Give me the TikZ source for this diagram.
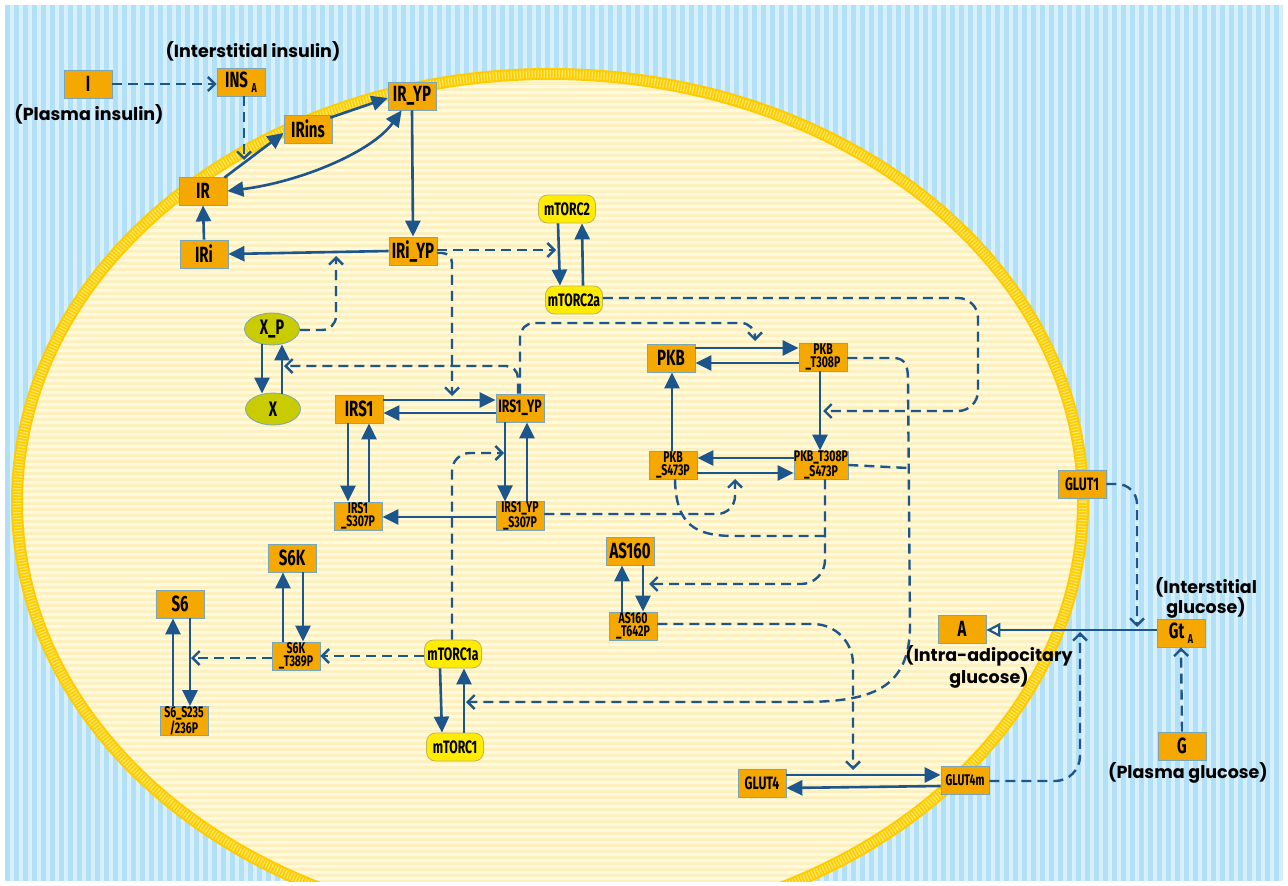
\documentclass[tikz,border=0pt]{standalone}
\usepackage{fontspec}
\usetikzlibrary{arrows.meta,shapes.geometric,calc}
\newfontfamily\cfont{Fira Sans}[FakeStretch=0.68]
\newfontfamily\lfont{Poppins}
\definecolor{bluebg}{RGB}{216,240,251}
\definecolor{bluestripe}{RGB}{178,224,246}
\definecolor{cellbg}{RGB}{255,249,222}
\definecolor{cellstripe}{RGB}{252,239,192}
\definecolor{memb}{RGB}{255,204,0}
\definecolor{membl}{RGB}{255,230,100}
\definecolor{orangef}{RGB}{245,168,0}
\definecolor{boxedge}{RGB}{120,165,185}
\definecolor{yellowf}{RGB}{255,236,0}
\definecolor{yellowedge}{RGB}{190,180,90}
\definecolor{olivef}{RGB}{200,204,0}
\definecolor{arrowc}{RGB}{28,86,140}
\begin{document}
\begin{tikzpicture}[x=1pt,y=-1pt,
  box/.style={draw=boxedge, line width=0.8pt, fill=orangef, minimum width=48pt, minimum height=28pt, inner sep=0pt, text=black, font=\cfont\bfseries\fontsize{22}{22}\selectfont},
  mbox/.style={box, font=\cfont\bfseries\fontsize{18}{18}\selectfont},
  sbox/.style={box, align=center, font=\cfont\bfseries\fontsize{15.5}{13}\selectfont},
  cplx/.style={draw=yellowedge, line width=0.8pt, fill=yellowf, rounded corners=9pt, minimum width=57pt, minimum height=28pt, inner sep=0pt, font=\cfont\bfseries\fontsize{18}{18}\selectfont},
  xell/.style={ellipse, draw=boxedge, line width=0.8pt, fill=olivef, minimum width=55pt, minimum height=32pt, inner sep=0pt, font=\cfont\bfseries\fontsize{21}{21}\selectfont},
  lab/.style={align=center, inner sep=0pt, font=\lfont\bfseries\fontsize{17.5}{18}\selectfont},
  rx/.style={draw=arrowc, line width=2.6pt, -{Triangle[length=16pt,width=15pt]}},
  rxx/.style={draw=arrowc, line width=2.6pt, {Triangle[length=16pt,width=15pt]}-{Triangle[length=16pt,width=15pt]}},
  inh/.style={draw=arrowc, line width=2.2pt, -{Triangle[open,length=14pt,width=14pt,fill=white]}},
  mdn/.style={draw=arrowc, line width=2.4pt, dash pattern=on 10pt off 6pt},
  md/.style={mdn, -{Straight Barb[length=7pt,width=14pt]}}
]
\useasboundingbox (0,0) rectangle (1288,886);
\fill[white] (0,0) rectangle (1288,886);
% blue background
\fill[bluebg] (5,5) rectangle (1283,881);
\foreach \i in {0,...,141} { \fill[bluestripe] ({5+9*\i},5) rectangle ({9.5+9*\i},881); }
% cell
\begin{scope}
  \clip (5,5) rectangle (1283,881);
  \begin{scope}
    \clip (550,502) ellipse [x radius=533, y radius=428];
    \fill[cellbg] (0,0) rectangle (1288,886);
    \foreach \j in {0,...,140} { \fill[cellstripe] (0,{70+6*\j}) rectangle (1288,{73+6*\j}); }
  \end{scope}
  \draw[memb, line width=12pt] (550,502) ellipse [x radius=533, y radius=428];
  \draw[membl, line width=8pt, dash pattern=on 1.2pt off 1.8pt] (550,502) ellipse [x radius=533, y radius=428];
\end{scope}

% nodes
\node[box] (I) at (88,84) {I};
\node[box] (INSA) at (241,82) {INS\,\raisebox{-5pt}{\fontsize{13}{13}\selectfont A}};
\node[box] (IRYP) at (412,96) {IR\_YP};
\node[box] (IRins) at (308,129) {IRins};
\node[box] (IR) at (203,191) {IR};
\node[box] (IRi) at (204,254) {IRi};
\node[box] (IRiYP) at (413,251) {IRi\_YP};
\node[cplx] (mTORC2) at (567,209) {mTORC2};
\node[cplx] (mTORC2a) at (574,300) {mTORC2a};
\node[xell] (XP) at (272,329) {X\_P};
\node[xell] (X) at (273,409) {X};
\node[box] (IRS1) at (359,409) {IRS1};
\node[mbox] (IRS1YP) at (520,408) {IRS1\_YP};
\node[sbox] (IRS1S) at (358,516) {IRS1\\\_S307P};
\node[sbox] (IRS1YPS) at (520,516) {IRS1\_YP\\\_S307P};
\node[box] (PKB) at (671,358) {PKB};
\node[sbox] (PKBT) at (823,357) {PKB\\\_T308P};
\node[sbox] (PKBS) at (673,465) {PKB\\\_S473P};
\node[sbox] (PKBTS) at (821,465) {PKB\_T308P\\\_S473P};
\node[box] (AS160) at (630,551) {AS160};
\node[sbox] (AS160T) at (633,626) {AS160\\\_T642P};
\node[box] (S6K) at (292,558) {S6K};
\node[sbox] (S6KT) at (296,656) {S6K\\\_T389P};
\node[box] (S6) at (180,604) {S6};
\node[sbox] (S6S) at (184,721) {S6\_S235\\/236P};
\node[cplx] (mTORC1a) at (453,654) {mTORC1a};
\node[cplx] (mTORC1) at (455,747) {mTORC1};
\node[mbox] (GLUT4) at (762,783) {GLUT4};
\node[sbox] (GLUT4m) at (965,780) {GLUT4m};
\node[mbox] (GLUT1) at (1082,484) {GLUT1};
\node[box] (A) at (962,629) {A};
\node[box] (GtA) at (1181,633) {Gt\,\raisebox{-5pt}{\fontsize{13}{13}\selectfont A}};
\node[box] (G) at (1182,746) {G};

% labels
\node[lab] (l1) at (253,51) {(Interstitial insulin)};
\node[lab] (l2) at (89,114) {(Plasma insulin)};
\node[lab] (l3) at (1206,598) {(Interstitial\\glucose)};
\node[lab] (l4) at (989,667) {(Intra-adipocitary\\glucose)};
\node[lab] (l5) at (1188,773) {(Plasma glucose)};

% reaction targets
\coordinate (c1) at (244,160);
\coordinate (c2) at (556,250);
\coordinate (c3) at (452,396);
\coordinate (c4) at (336,256);
\coordinate (c5) at (284,366);
\coordinate (c6) at (823,411);
\coordinate (c7) at (755,341);
\coordinate (c8) at (466,702);
\coordinate (j1) at (908,468);
\coordinate (c9) at (649,584);
\coordinate (j2) at (825,536);
\coordinate (c10) at (735,479);
\coordinate (c11) at (504,453);
\coordinate (c12) at (191,658);
\coordinate (c13) at (853,770);
\coordinate (c14) at (1080,632);
\coordinate (c15) at (1137,627);

% solid reactions
\draw[rx] ($(IR.north east)+(-3,1)$) -- ($(IRins.west)+(0,4)$);
\draw[rx] ($(IRins.north east)+(-2,3)$) -- ($(IRYP.west)+(0,2)$);
\draw[rxx] (IR.east) .. controls (300,182) and (372,152) .. ($(IRYP.south west)+(14,0)$);
\draw[rx] (IRYP.south) -- (IRiYP.north);
\draw[rx] (IRiYP.west) -- (IRi.east);
\draw[rx] (IRi.north) -- (IR.south);
\draw[rx] ($(mTORC2.south)+(-9,0)$) -- ($(mTORC2a.north)+(-14,0)$);
\draw[rx] ($(mTORC2a.north)+(9,0)$) -- ($(mTORC2.south)+(15,0)$);
\draw[rx] ($(XP.south)+(-10,-1)$) -- ($(X.north)+(-11,1)$);
\draw[rx] ($(X.north)+(9,1)$) -- ($(XP.south)+(10,-1)$);
\draw[rx] ($(IRS1.east)+(0,-9)$) -- ($(IRS1YP.west)+(0,-8)$);
\draw[rx] ($(IRS1YP.west)+(0,5)$) -- ($(IRS1.east)+(0,4)$);
\draw[rx] ($(IRS1.south)+(-11,0)$) -- ($(IRS1S.north)+(-10,0)$);
\draw[rx] ($(IRS1S.north)+(11,0)$) -- ($(IRS1.south)+(10,0)$);
\draw[rx] ($(IRS1YP.south)+(-15,0)$) -- ($(IRS1YPS.north)+(-15,0)$);
\draw[rx] ($(IRS1YPS.north)+(7,0)$) -- ($(IRS1YP.south)+(7,0)$);
\draw[rx] ($(IRS1YPS.west)+(0,1)$) -- ($(IRS1S.east)+(0,1)$);
\draw[rx] ($(PKB.east)+(0,-10)$) -- ($(PKBT.west)+(0,-9)$);
\draw[rx] ($(PKBT.west)+(0,6)$) -- ($(PKB.east)+(0,5)$);
\draw[rx] ($(PKBT.south)+(-3,0)$) -- ($(PKBTS.north)+(-1,0)$);
\draw[rx] ($(PKBTS.west)+(0,-7)$) -- ($(PKBS.east)+(0,-7)$);
\draw[rx] ($(PKBS.east)+(0,8)$) -- ($(PKBTS.west)+(0,8)$);
\draw[rx] ($(PKBS.north)+(-1,0)$) -- ($(PKB.south)+(1,0)$);
\draw[rx] ($(AS160.south)+(13,0)$) -- ($(AS160T.north)+(10,0)$);
\draw[rx] ($(AS160T.north)+(-11,0)$) -- ($(AS160.south)+(-8,0)$);
\draw[rx] ($(S6K.south)+(11,0)$) -- ($(S6KT.north)+(7,0)$);
\draw[rx] ($(S6KT.north)+(-13,0)$) -- ($(S6K.south)+(-9,0)$);
\draw[rx] ($(S6.south)+(10,0)$) -- ($(S6S.north)+(6,0)$);
\draw[rx] ($(S6S.north)+(-11,0)$) -- ($(S6.south)+(-7,0)$);
\draw[rx] ($(mTORC1a.south)+(-13,0)$) -- ($(mTORC1.north)+(-13,0)$);
\draw[rx] ($(mTORC1.north)+(9,0)$) -- ($(mTORC1a.south)+(11,0)$);
\draw[rx] ($(GLUT4.east)+(0,-8)$) -- ($(GLUT4m.west)+(0,-5)$);
\draw[rx] ($(GLUT4m.west)+(0,6)$) -- ($(GLUT4.east)+(0,5)$);
\draw[inh] ($(GtA.west)+(0,-3)$) -- ($(A.east)+(0,1)$);

% dashed modifiers
\draw[md] (I.east) -- ($(INSA.west)+(0,2)$);
\draw[md] ($(INSA.south)+(3,0)$) -- (c1);
\draw[md] ($(IRiYP.east)+(0,-1)$) -- (c2);
\draw[md, rounded corners=10pt] ($(IRiYP.east)+(0,2)$) -- (452,253) -- (c3);
\draw[md, rounded corners=14pt] ($(XP.east)+(0,1)$) -- (336,330) -- (c4);
\draw[md, rounded corners=12pt] ($(IRS1YP.north)+(-2,0)$) -- (518,366) -- (c5);
\draw[md, rounded corners=20pt] ($(mTORC2a.east)+(0,-2)$) -- (978,298) -- (978,411) -- (c6);
\draw[md, rounded corners=14pt] (IRS1YP.north) -- (520,323) -- (755,323) -- (c7);
\draw[md] ($(PKBT.east)+(0,1)$) -- (893,358) .. controls (905,358) and (908,365) .. (908,380) -- (910,625) .. controls (910,690) and (870,702) .. (800,702) -- (c8);
\draw[mdn] (PKBTS.east) -- (j1);
\draw[md, rounded corners=24pt] ($(PKBTS.south)+(4,0)$) -- (825,584) -- (c9);
\draw[mdn] ($(PKBS.south)+(2,0)$) .. controls (676,525) and (695,536) .. (735,536) -- (j2);
\draw[md, rounded corners=18pt] ($(IRS1YPS.east)+(0,-2)$) -- (735,514) -- (c10);
\draw[md, rounded corners=18pt] ($(mTORC1a.north)+(-1,0)$) -- (452,453) -- (c11);
\draw[md] ($(mTORC1a.west)+(0,2)$) -- (S6KT.east);
\draw[md] ($(S6KT.west)+(0,2)$) -- (c12);
\draw[md, rounded corners=40pt] ($(AS160T.east)+(0,-2)$) -- (853,624) -- (c13);
\draw[md, rounded corners=25pt] ($(GLUT4m.east)+(0,1)$) -- (1080,781) -- (c14);
\draw[md, rounded corners=20pt] (GLUT1.east) -- (1137,484) -- (c15);
\draw[md] (G.north) -- (GtA.south);
\end{tikzpicture}
\end{document}
